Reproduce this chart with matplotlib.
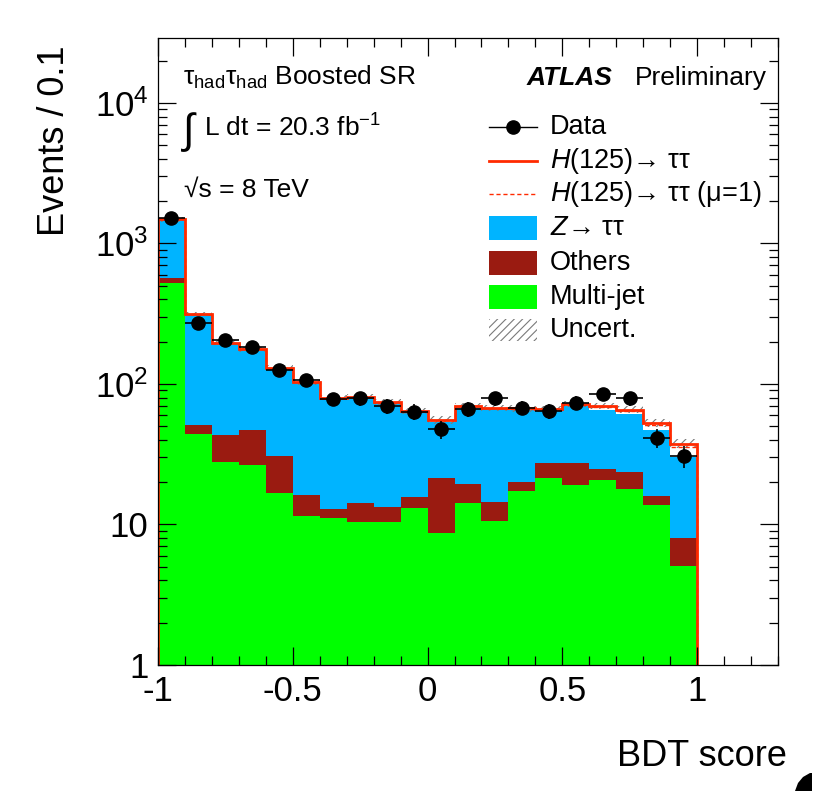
import numpy as np
import matplotlib

matplotlib.use("Agg")
import matplotlib.pyplot as plt
from matplotlib.lines import Line2D
from matplotlib.patches import Rectangle, Polygon
from matplotlib.ticker import FixedLocator, LogLocator, NullFormatter

plt.rcParams["font.family"] = ["Liberation Sans", "DejaVu Sans"]
plt.rcParams["mathtext.fontset"] = "custom"
plt.rcParams["mathtext.rm"] = "Liberation Sans"
plt.rcParams["mathtext.it"] = "Liberation Sans:italic"
plt.rcParams["mathtext.bf"] = "Liberation Sans:bold"
plt.rcParams["axes.unicode_minus"] = False
plt.rcParams["hatch.linewidth"] = 0.8

# ---- data ----
bin_edges = [-1.0, -0.9, -0.8, -0.7, -0.6, -0.5, -0.4, -0.3, -0.2, -0.1, 0.0,
             0.1, 0.2, 0.3, 0.4, 0.5, 0.6, 0.7, 0.8, 0.9, 1.0]
multijet = [521, 43.9, 28, 26.5, 16.7, 11.4, 11.1, 10.5, 10.5, 13.0,
            8.65, 14.2, 10.6, 17.3, 21.5, 19.1, 20.6, 17.8, 13.8, 5.07]
others = [44, 7.1, 15.4, 20.5, 14.0, 4.8, 1.7, 3.7, 2.9, 2.8,
          12.85, 5.2, 3.9, 2.9, 5.8, 8.4, 4.4, 6.0, 2.2, 2.93]
ztautau = [923, 263, 152.6, 129, 99.3, 85.8, 66.2, 65.8, 59.6, 47.2,
           32.4, 48.8, 52.0, 44.8, 36.7, 42.0, 40.7, 37.2, 30.9, 22.3]
higgs_fit = [2.0, 1.0, 1.0, 1.0, 1.0, 1.0, 1.0, 1.0, 1.0, 1.0,
             1.5, 1.5, 1.5, 2.0, 2.0, 2.5, 4.3, 4.6, 5.9, 7.4]
higgs_mu1 = [1.5, 0.7, 0.7, 0.7, 0.7, 0.7, 0.7, 0.7, 0.7, 0.7,
             1.1, 1.1, 1.1, 1.4, 1.4, 1.8, 3.0, 3.3, 4.2, 5.3]
uncert_rel = [0.04, 0.04, 0.04, 0.04, 0.04, 0.04, 0.04, 0.04, 0.05, 0.05,
              0.06, 0.05, 0.05, 0.05, 0.05, 0.05, 0.05, 0.06, 0.06, 0.07]
data_x = [-0.95, -0.85, -0.75, -0.65, -0.55, -0.45, -0.35, -0.25, -0.15, -0.05,
          0.05, 0.15, 0.25, 0.35, 0.45, 0.55, 0.65, 0.75, 0.85, 0.95]
data_y = [1510, 270, 206, 184, 126, 107, 78, 79, 70, 63.5,
          47.6, 66, 79, 68, 64, 73.6, 85, 79, 41.6, 30.7]

x_ticks = [-1, -0.5, 0, 0.5, 1]
x_ticklabels = ["-1", "-0.5", "0", "0.5", "1"]
y_ticks = [1, 10, 100, 1000, 10000]
y_ticklabels = ["1", "10", "$10^{2}$", "$10^{3}$", "$10^{4}$"]

C_Z = "#00b4ff"
C_OTH = "#9a1b11"
C_MJ = "#00ff00"
C_RED = "#ff2a00"
C_HATCH = "#7a7a7a"

W, H = 829, 791


def fx(x):
    return x / W


def fy(y):
    return 1 - y / H


fig = plt.figure(figsize=(W / 100, H / 100), dpi=100)
ax = fig.add_axes([fx(158), fy(665), fx(778) - fx(158), fy(38) - fy(665)])

edges = np.array(bin_edges)
mj = np.array(multijet)
lvl_oth = mj + np.array(others)
lvl_z = lvl_oth + np.array(ztautau)
tot_fit = lvl_z + np.array(higgs_fit)
tot_mu1 = lvl_z + np.array(higgs_mu1)
rel = np.array(uncert_rel)

base = 1e-3
ax.stairs(lvl_z, edges, baseline=base, fill=True, color=C_Z, lw=0)
ax.stairs(lvl_oth, edges, baseline=base, fill=True, color=C_OTH, lw=0)
ax.stairs(mj, edges, baseline=base, fill=True, color=C_MJ, lw=0)

ax.stairs(tot_fit * (1 + rel), edges, baseline=tot_fit * (1 - rel), fill=True,
          facecolor="none", edgecolor=C_HATCH, hatch="////", lw=0)
ax.stairs(tot_fit, edges, baseline=base, color=C_RED, lw=2.0)
ax.stairs(tot_mu1, edges, baseline=base, color=C_RED, lw=1.0, ls=(0, (3, 2)))

dy = np.sqrt(np.array(data_y))
ax.errorbar(data_x, data_y, xerr=0.05, yerr=dy, fmt="o", color="black",
            markersize=9.5, elinewidth=1.2, capsize=0)

ax.set_yscale("log")
ax.set_xlim(-1, 1.3)
ax.set_ylim(1, 2.9e4)

ax.xaxis.set_major_locator(FixedLocator(x_ticks))
ax.set_xticklabels(x_ticklabels)
ax.xaxis.set_minor_locator(FixedLocator(np.arange(-1, 1.31, 0.1)))
ax.yaxis.set_major_locator(FixedLocator(y_ticks))
ax.set_yticklabels(y_ticklabels)
ax.yaxis.set_minor_locator(LogLocator(base=10, subs=np.arange(2, 10)))
ax.yaxis.set_minor_formatter(NullFormatter())

ax.tick_params(which="both", direction="in", top=True, right=True,
               width=0.9, labelsize=25)
ax.tick_params(which="major", length=13)
ax.tick_params(which="minor", length=6.5)
ax.tick_params(axis="x", pad=7)
ax.tick_params(axis="y", pad=7)
for s in ax.spines.values():
    s.set_linewidth(0.9)

# axis titles
fig.text(fx(787), fy(757), "BDT score", fontsize=26, ha="right", va="center")
fig.text(fx(55), fy(141), "Events / 0.1", fontsize=26, rotation=90,
         ha="center", va="center")

# labels inside the frame
fs_lab = 19
fig.text(fx(183), fy(85), "τ$_{\\rm had}$τ$_{\\rm had}$ Boosted SR",
         fontsize=fs_lab, ha="left", va="baseline")
fig.text(fx(183), fy(132), "∫", fontsize=30, ha="left", va="center")
fig.text(fx(204), fy(137), "L dt = 20.3 fb$^{-1}$", fontsize=fs_lab,
         ha="left", va="baseline")
fig.text(fx(184), fy(197), "√s = 8 TeV", fontsize=fs_lab, ha="left",
         va="baseline")
fig.text(fx(527), fy(85), "ATLAS", fontsize=fs_lab, fontweight="bold",
         fontstyle="italic", ha="left", va="baseline")
fig.text(fx(767), fy(85), "Preliminary", fontsize=fs_lab, ha="right",
         va="baseline")

# legend, drawn by hand to match the row layout
hx0, hx1, tx = 489, 537, 550
rows = [127, 161, 194, 228, 263, 297, 330]
labels = ["Data", "$H$(125)→ ττ", "$H$(125)→ ττ (μ=1)", "$Z$→ ττ",
          "Others", "Multi-jet", "Uncert."]
for yy, lab in zip(rows, labels):
    fig.text(fx(tx), fy(yy), lab, fontsize=19.5, ha="left", va="center")

fig.add_artist(Line2D([fx(hx0), fx(hx1)], [fy(rows[0])] * 2, color="black",
                      lw=1.0, transform=fig.transFigure))
fig.add_artist(Line2D([fx((hx0 + hx1) / 2)], [fy(rows[0])], marker="o",
                      markersize=9.5, color="black", transform=fig.transFigure))
fig.add_artist(Line2D([fx(hx0), fx(hx1)], [fy(rows[1])] * 2, color=C_RED,
                      lw=2.0, transform=fig.transFigure))
fig.add_artist(Line2D([fx(hx0), fx(hx1)], [fy(rows[2])] * 2, color=C_RED,
                      lw=1.0, ls=(0, (3, 2)), transform=fig.transFigure))
for yy, col in zip(rows[3:6], [C_Z, C_OTH, C_MJ]):
    fig.add_artist(Rectangle((fx(hx0), fy(yy + 12)), fx(hx1) - fx(hx0),
                             fy(yy - 12) - fy(yy + 12), facecolor=col,
                             edgecolor="none", transform=fig.transFigure))
fig.add_artist(Rectangle((fx(hx0), fy(rows[6] + 11)), fx(hx1) - fx(hx0),
                         fy(rows[6] - 11) - fy(rows[6] + 11),
                         facecolor="none", edgecolor=C_HATCH, hatch="////",
                         lw=0, transform=fig.transFigure))

# cropped dark shape in the bottom-right corner of the original image
corner = [(795, 791), (798, 783), (803, 777), (810, 773), (812, 773), (812, 791)]
fig.add_artist(Polygon([(fx(a), fy(b)) for a, b in corner], closed=True,
                       facecolor="black", edgecolor="none",
                       transform=fig.transFigure))

fig.savefig("out.png", dpi=100)
